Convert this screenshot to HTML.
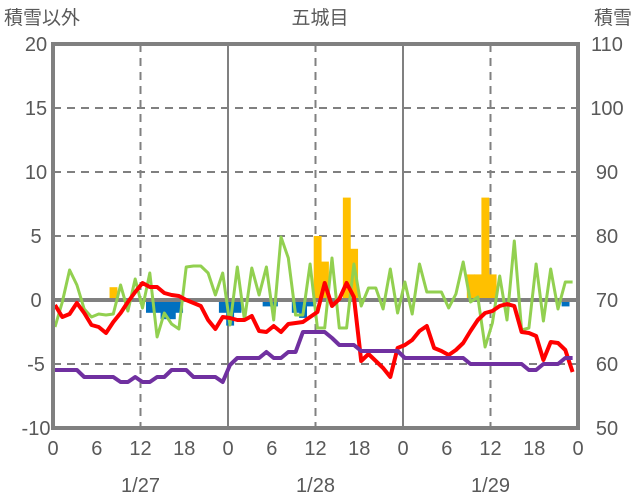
<!DOCTYPE html>
<html><head><meta charset="utf-8"><style>
html,body{margin:0;padding:0;background:#fff;}
svg{display:block;font-family:"Liberation Sans","Noto Sans CJK JP",sans-serif;}
</style></head><body>
<svg id="s" width="636" height="501" viewBox="0 0 636 501" xmlns="http://www.w3.org/2000/svg">
<g fill="#595959" font-size="20">
<text x="4" y="24" font-size="19">積雪以外</text>
<text x="320" y="24" text-anchor="middle" font-size="19">五城目</text>
<text x="632" y="24" text-anchor="end" font-size="19">積雪</text>
</g>
<g id="g"></g>
</svg>
<script>
var L=53,R=578,T=44,B=428;
function X(h){return L+h*(R-L)/72;}
function Y(v){return 300-v*12.8;}
var s='';
for(var v=-5;v<=15;v+=5){if(v==0)continue;s+='<line x1="'+L+'" x2="'+R+'" y1="'+Y(v)+'" y2="'+Y(v)+'" stroke="#808080" stroke-width="2" stroke-dasharray="8,6"/>';}
[12,36,60].forEach(function(h){s+='<line x1="'+X(h)+'" x2="'+X(h)+'" y1="'+T+'" y2="'+B+'" stroke="#808080" stroke-width="2" stroke-dasharray="8,6"/>';});
[24,48].forEach(function(h){s+='<line x1="'+X(h)+'" x2="'+X(h)+'" y1="'+T+'" y2="'+B+'" stroke="#808080" stroke-width="2"/>';});
var ob={8:1,36:5,37:3,40:8,41:4,57:2,58:2,59:8,60:2};
var bb={13:-1,14:-1,15:-1.5,16:-1.5,17:-1,23:-1,24:-2,25:-1,29:-0.5,30:-0.5,33:-1,34:-1.4,35:-0.5,70:-0.5};
var w=(R-L)/72;
for(var k in ob){s+='<rect x="'+(X(+k)-1.8)+'" y="'+Y(ob[k])+'" width="'+(w+0.6)+'" height="'+(300-Y(ob[k]))+'" fill="#ffc000"/>';}
for(var k in bb){s+='<rect x="'+(X(+k)-1.8)+'" y="300" width="'+(w+0.6)+'" height="'+(Y(bb[k])-300)+'" fill="#0070c0"/>';}
s+='<line x1="'+L+'" x2="'+R+'" y1="300" y2="300" stroke="#808080" stroke-width="4"/>';
function line(arr,col,sw){var p=arr.map(function(y,i){return (L+2+i*7.29).toFixed(1)+','+y;}).join(' ');return '<polyline points="'+p+'" fill="none" stroke="'+col+'" stroke-width="'+sw+'" stroke-linejoin="round"/>';}
var green=[327,302,270,285,309,317,314,315,314,285,311,279,308,273,337,313,324,329,267,266,266,273,295,273,325,267,320,268,295,267,320,237,258,315,315,264,328,328,258,328,328,264,306,288,288,309,269,313,282,314,264,292,292,292,308,294,262,302,297,347,323,276,320,241,330,328,264,321,269,309,282,282];
var red=[305,317,314,303,313,325,327,333,322,313,302,292,283,287,287,293,295,296,300,303,306,320,329,317,318,320,320,316,331,332,326,332,324,323,322,317,312,283,306,299,283,297,361,354,361,368,377,348,345,340,331,326,348,351,355,350,343,331,320,313,311,306,304,306,332,333,336,360,342,343,350,372];
var pur=[370,370,370,370,377,377,377,377,377,382,382,377,382,382,377,377,370,370,370,377,377,377,377,382,365,358,358,358,358,352,358,358,352,352,332,332,332,332,338,345,345,345,351,351,351,351,351,351,358,358,358,358,358,358,358,358,358,364,364,364,364,364,364,364,364,370,370,364,364,364,358,358];
s+=line(green,'#92d050',3)+line(red,'#ff0000',4)+line(pur,'#7030a0',4);
s+='<path d="M'+L+' '+B+' V'+T+' H'+R+' V'+B+' Z" fill="none" stroke="#808080" stroke-width="4"/>';
var t='<g fill="#595959" font-size="20">';
for(var v=-10;v<=20;v+=5){t+='<text x="36" y="'+(Y(v)+7)+'" text-anchor="middle">'+v+'</text>';}
for(var r=50;r<=110;r+=10){t+='<text x="607" y="'+(Y((r-70)/2)+7)+'" text-anchor="middle">'+r+'</text>';}
var lb=['0','6','12','18'];
for(var h=0;h<=72;h+=6){t+='<text x="'+X(h)+'" y="455" text-anchor="middle">'+lb[(h/6)%4]+'</text>';}
['1/27','1/28','1/29'].forEach(function(d,i){t+='<text x="'+X(12+24*i)+'" y="492" text-anchor="middle">'+d+'</text>';});
t+='</g>';
document.getElementById('g').innerHTML=s+t;
</script>
</body></html>
